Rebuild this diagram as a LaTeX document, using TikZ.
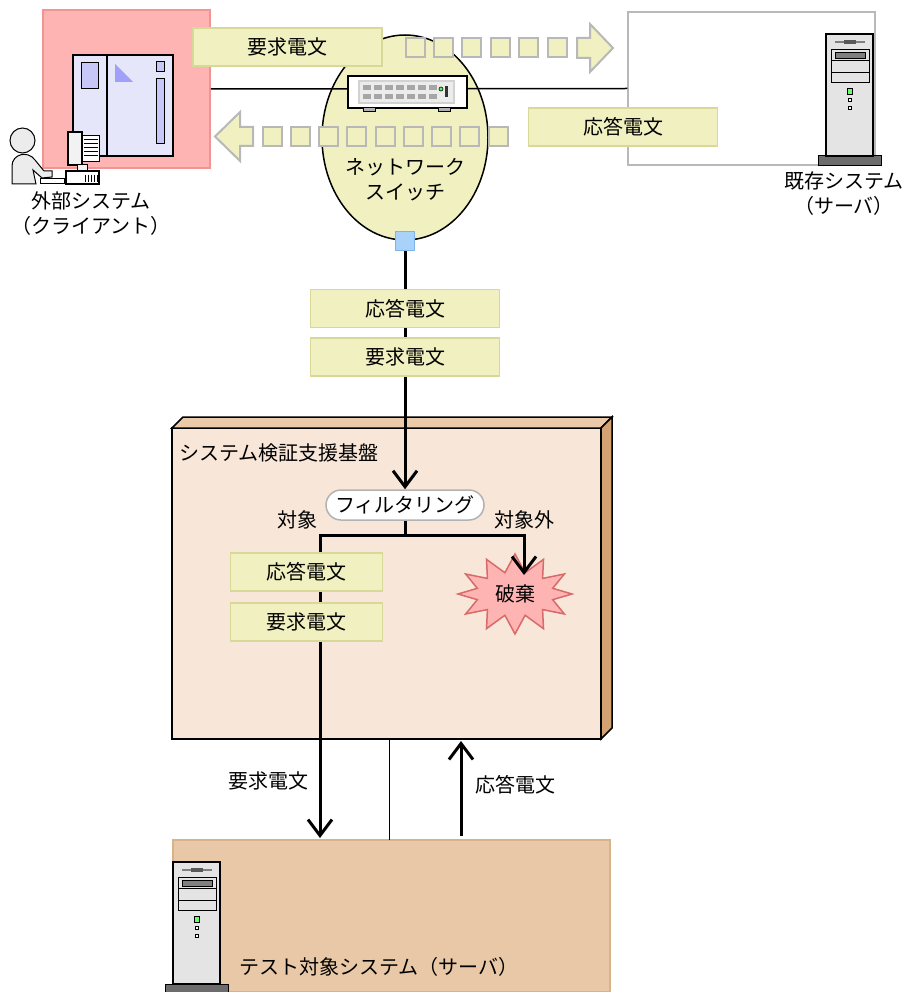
\documentclass[tikz,border=0pt]{standalone}
\usepackage{fontspec}
\setmainfont{Noto Sans CJK JP}
\usetikzlibrary{arrows.meta,shapes.symbols,shapes.geometric}

\definecolor{msgfill}{HTML}{F0F0C0}
\definecolor{msgline}{HTML}{D8D898}
\definecolor{pktline}{HTML}{B8B8B8}
\definecolor{pinkfill}{HTML}{FFB4B4}
\definecolor{pinkline}{HTML}{F29494}
\definecolor{hostfill}{HTML}{E6E6FA}
\definecolor{hostpart}{HTML}{C8C8F8}
\definecolor{portfill}{HTML}{A8D2FA}
\definecolor{portline}{HTML}{80B4E6}
\definecolor{platfront}{HTML}{F8E6D8}
\definecolor{plattop}{HTML}{EACAA8}
\definecolor{platside}{HTML}{D4A272}
\definecolor{sutfill}{HTML}{E8C8A6}
\definecolor{sutline}{HTML}{D8B28A}
\definecolor{dropfill}{HTML}{FFB4B4}
\definecolor{dropline}{HTML}{D86A6A}
\definecolor{srvfill}{HTML}{E4E4E4}

\begin{document}
\begin{tikzpicture}[x=1pt, y=-1pt,
    font=\fontsize{20}{25}\selectfont,
    msg/.style={rectangle, draw=msgline, fill=msgfill, line width=1.5pt, minimum width=189pt, minimum height=38pt},
    pkt/.style={rectangle, draw=pktline, fill=msgfill, line width=2pt, minimum size=19pt, inner sep=0pt},
    pkthead/.style={draw=pktline, fill=msgfill, line width=2pt, line join=miter},
    flow/.style={-{Straight Barb[length=16pt,width=24pt]}, line width=3pt},
    lbl/.style={align=center, inner sep=0pt},
    pcpart/.style={draw=black, line width=1pt},
    server/.pic={
        % base, tower, drive bays, lamps
        \draw[fill=gray!85!black, line width=1pt] (-8,122) rectangle (55,132);
        \draw[fill=srvfill, line width=1.5pt] (0,0) rectangle (47,122);
        \draw[gray, line width=1.5pt] (9,8) -- (39,8);
        \fill[gray!70!black] (18,6) rectangle (30,10);
        \draw[fill=srvfill, line width=0.8pt] (5,15) rectangle (43,48);
        \draw[line width=0.8pt] (5,26) -- (43,26) (5,38) -- (43,38);
        \draw[fill=gray, line width=0.8pt] (9,18) rectangle (39,24);
        \draw[fill=green!60!white, line width=0.8pt] (21,54) rectangle (26,60);
        \draw[fill=white, line width=0.6pt] (22,64) rectangle (25,67) (22,72) rectangle (25,75);
    }
]
    \useasboundingbox (0,0) rectangle (912,992);

    % Client side
    \node[rectangle, draw=pinkline, fill=pinkfill, line width=1.5pt, minimum width=167pt, minimum height=158pt] (client) at (126.5,89) {};
    \node[rectangle, draw, fill=hostfill, line width=1.5pt, minimum width=100pt, minimum height=101pt] (host) at (123,105.5) {};
    \draw[line width=1.5pt] (107,55) -- (107,156);
    \draw[pcpart, fill=hostpart] (81,63) rectangle (98,89);
    \fill[hostpart!80!blue] (115,64) -- (115,82) -- (133,82) -- cycle;
    \draw[pcpart, fill=hostpart] (156,62) rectangle (164,72);
    \draw[pcpart, fill=hostpart] (156,79) rectangle (164,144);

    % Operator and terminal
    \draw[pcpart, fill=gray!15] (22.5,140.5) circle (12.5);
    \draw[pcpart, fill=gray!15] (12,184) -- (12,166) .. controls (12,154) and (28,150) .. (35,160) -- (44,171) -- (52,171) -- (52,177) -- (42,178) -- (33,170) -- (36,184) -- cycle;
    \draw[pcpart, fill=white] (40,179) rectangle (64,184);
    \draw[pcpart, fill=gray!10, line width=1.5pt] (68,132) rectangle (82,165);
    \draw[pcpart, fill=white] (82,136) rectangle (99,162);
    \foreach \y in {140,144,...,158}
        \draw[line width=1pt] (84,\y) -- (98,\y);
    \draw[pcpart, fill=gray!10] (77,165) rectangle (87,171);
    \draw[pcpart, fill=white, line width=1.5pt] (66,171) rectangle (99,184);
    \foreach \x in {85,88,...,97}
        \draw[line width=0.8pt] (\x,175) -- (\x,182);
    \node[lbl] (clientlbl) at (91,214) {外部システム\\（クライアント）};

    % Existing system
    \node[rectangle, draw=gray!55, line width=1.5pt, minimum width=247pt, minimum height=153pt] (legacy) at (751.5,88.5) {};
    \pic at (826,34) {server};
    \node[lbl] (legacylbl) at (844,194) {既存システム\\（サーバ）};

    % Network switch
    \node[ellipse, draw, fill=msgfill, line width=1.5pt, minimum width=166pt, minimum height=205pt] (hub) at (405,137.5) {};
    \draw[line width=1.5pt] (client.east) -- (legacy.west);
    \node[lbl] (hublbl) at (405,180) {ネットワーク\\スイッチ};

    % Request towards the existing system
    \node[msg] (reqtop) at (287.5,47) {要求電文};
    \foreach \i in {0,...,5}
        \node[pkt] (rp\i) at (415+28.4*\i,48) {};
    \draw[pkthead] (577,38) -- (590,38) -- (590,24) -- (613,48) -- (590,72) -- (590,58) -- (577,58) -- cycle;

    % Response back to the client
    \foreach \i in {0,...,8}
        \node[pkt] (lp\i) at (272+28.25*\i,136.5) {};
    \draw[pkthead] (253,127) -- (240,127) -- (240,112) -- (215,136.5) -- (240,161) -- (240,146) -- (253,146) -- cycle;
    \node[msg] (restop) at (623,127) {応答電文};

    % Switch body
    \node[rectangle, draw, fill=white, line width=1.5pt, minimum width=119pt, minimum height=32pt] (sw) at (407.5,92) {};
    \fill[gray!35] (358,80) rectangle (455,104);
    \fill[gray!15] (360,82) rectangle (453,102);
    \foreach \i in {0,...,6} {
        \fill[gray!70] (363+11*\i,85) rectangle ++(8,5);
        \fill[gray!70] (363+11*\i,94) rectangle ++(8,5);
    }
    \draw[fill=green!70!white, line width=0.6pt] (441,89) circle (2);
    \fill[gray!40!black] (445,86) rectangle (448,97);
    \draw[fill=gray!60, line width=1pt] (363,108) rectangle (375,112) (438,108) rectangle (450,112);
    \node[rectangle, draw=portline, fill=portfill, line width=1.5pt, minimum size=19pt, inner sep=0pt] (port) at (405,241) {};

    % Verification platform
    \node[rectangle, draw, fill=platfront, line width=1.5pt, outer sep=0pt, minimum width=429pt, minimum height=311pt] (plat) at (386.5,583.5) {};
    \draw[fill=plattop, line width=1.5pt] (plat.north west) -- ++(11,-11) -- ++(429,0) -- (plat.north east) -- cycle;
    \draw[fill=platside, line width=1.5pt] (plat.north east) -- ++(11,-11) -- ++(0,311) -- (plat.south east) -- cycle;
    \node[anchor=west, inner sep=0pt] (platlbl) at (179,453) {システム検証支援基盤};

    % System under test
    \node[rectangle, draw=sutline, fill=sutfill, line width=1.5pt, outer sep=0pt, minimum width=437pt, minimum height=152pt] (sut) at (391.5,916) {};
    \pic at (173,862) {server};
    \node[anchor=west, inner sep=0pt] (sutlbl) at (239,967) {テスト対象システム（サーバ）};

    % Filtering
    \node[rectangle, rounded corners=15pt, draw=gray!60, fill=white, line width=1.5pt, minimum width=158pt, minimum height=30pt, inner sep=0pt] (filt) at (405,505) {フィルタリング};
    \node[starburst, starburst points=12, starburst point height=18pt, random starburst=0, draw=dropline, fill=dropfill, line width=1.5pt, minimum width=114pt, minimum height=80pt, inner sep=0pt] (drop) at (515,594) {破棄};

    % Mirrored traffic to the platform
    \draw[flow] (port.south) -- (filt.north);
    \node[msg] (resmid) at (405,308.5) {応答電文};
    \node[msg] (reqmid) at (405,357) {要求電文};

    % Branches after filtering
    \coordinate (reqx) at (320,0);
    \coordinate (dropin) at (524,575);
    \draw[line width=3pt] (filt.south) -- ++(0,15) coordinate (fork);
    \draw[line width=3pt] (fork) -| (reqx |- 640,640);
    \draw[flow] (fork) -| (dropin);
    \node[lbl] (inlbl) at (297,520) {対象};
    \node[lbl] (outlbl) at (524,520) {対象外};
    \node[msg, minimum width=152pt] (resin) at (306.5,572) {応答電文};
    \node[msg, minimum width=152pt] (reqin) at (306.5,622) {要求電文};

    % Links between platform and target
    \coordinate (linkx) at (389,0);
    \coordinate (resx) at (461,0);
    \draw[line width=1pt] (plat.south -| linkx) -- (sut.north -| linkx);
    \draw[flow, shorten <=4pt, shorten >=2pt] (sut.north -| resx) -- (plat.south -| resx);
    \draw[flow, shorten >=2pt] (reqin.south -| reqx) -- (sut.north -| reqx);
    \node[lbl] (reqlbl) at (268,781) {要求電文};
    \node[lbl] (reslbl) at (515,785) {応答電文};
\end{tikzpicture}
\end{document}
